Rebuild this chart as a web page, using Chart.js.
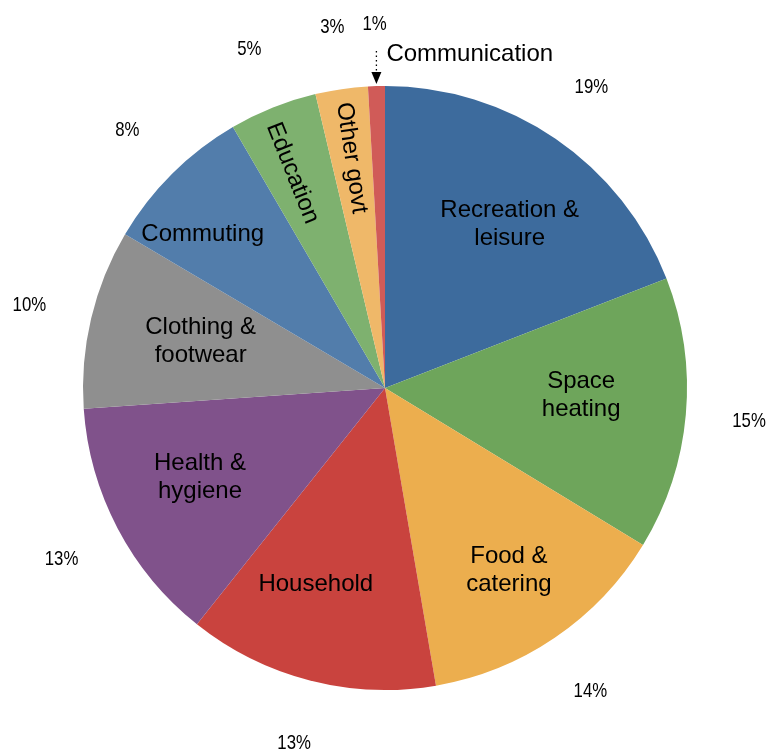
<!DOCTYPE html>
<html>
<head>
<meta charset="utf-8">
<title>Household spending by category</title>
<script src="https://cdn.jsdelivr.net/npm/chart.js@4/dist/chart.umd.min.js"></script>
<style>
  html, body { margin: 0; padding: 0; background: #ffffff; }
  #wrap { position: relative; width: 769px; height: 753px; }
</style>
</head>
<body>
<div id="wrap"><canvas id="pie"></canvas></div>
<script>
// Category names, split into the lines shown inside each slice
const categories = [
  ['Recreation &', 'leisure'],
  ['Space', 'heating'],
  ['Food &', 'catering'],
  ['Household'],
  ['Health &', 'hygiene'],
  ['Clothing &', 'footwear'],
  ['Commuting'],
  ['Education'],
  ['Other govt'],
  ['Communication']
];

// Share of spending, percent
const shares = [19.1, 14.6, 13.6, 13.4, 13.2, 9.6, 8.1, 4.7, 2.8, 0.9];

const sliceColors = [
  '#3d6b9d', '#6ea55b', '#ecae4e', '#c9433e', '#80528b',
  '#8f8f8f', '#527dab', '#7eb16f', '#efb869', '#d05b58'
];

// Where each category name sits: fraction of the radius, angle nudge (deg),
// and whether the text runs along the radius or sits outside with a pointer
const nameLayout = [
  { r: 0.68, da: 3 },
  { r: 0.65, da: -3 },
  { r: 0.73, da: 0 },
  { r: 0.69, da: 5 },
  { r: 0.68, da: 2 },
  { r: 0.63, da: 1 },
  { r: 0.79, da: -5 },
  { r: 0.775, da: -1.5, radial: true },
  { r: 0.77, da: 0, radial: true },
  { outside: true }
];

const NAME_FONT = '24px "Liberation Sans", Arial, Helvetica, sans-serif';
const PCT_FONT = '21px "Liberation Sans", Arial, sans-serif';
const PCT_SQUEEZE = 0.8; // percentages are set in a condensed face

const sliceLabels = {
  id: 'sliceLabels',
  afterDatasetsDraw(chart) {
    const ctx = chart.ctx;
    const arcs = chart.getDatasetMeta(0).data;
    ctx.save();
    ctx.fillStyle = '#000000';
    arcs.forEach((arc, i) => {
      const p = arc.getProps(['x', 'y', 'startAngle', 'endAngle', 'outerRadius'], true);
      const mid = (p.startAngle + p.endAngle) / 2;
      const R = p.outerRadius;

      // percentage outside the rim
      const pr = R * 1.21;
      ctx.save();
      ctx.font = PCT_FONT;
      ctx.textAlign = 'center';
      ctx.textBaseline = 'middle';
      ctx.translate(p.x + Math.cos(mid) * pr, p.y + Math.sin(mid) * pr);
      ctx.scale(PCT_SQUEEZE, 1);
      ctx.fillText(Math.round(shares[i]) + '%', 0, 1);
      ctx.restore();

      const lay = nameLayout[i];
      const lines = categories[i];
      ctx.font = NAME_FONT;
      ctx.textBaseline = 'middle';

      if (lay.outside) {
        // name beside the rim with a dotted pointer down to the slice
        const tipX = p.x + Math.cos(mid) * (R + 2);
        const tipY = p.y + Math.sin(mid) * (R + 2);
        ctx.textAlign = 'left';
        ctx.fillText(lines[0], tipX + 10, tipY - 30);
        ctx.strokeStyle = '#000000';
        ctx.lineWidth = 1.3;
        ctx.setLineDash([1.5, 3]);
        ctx.beginPath();
        ctx.moveTo(tipX, tipY - 33);
        ctx.lineTo(tipX, tipY - 11);
        ctx.stroke();
        ctx.setLineDash([]);
        ctx.beginPath();
        ctx.moveTo(tipX - 5, tipY - 12);
        ctx.lineTo(tipX + 5, tipY - 12);
        ctx.lineTo(tipX, tipY);
        ctx.closePath();
        ctx.fill();
        return;
      }

      const a = mid + lay.da * Math.PI / 180;
      const cx = p.x + Math.cos(a) * R * lay.r;
      const cy = p.y + Math.sin(a) * R * lay.r;
      ctx.textAlign = 'center';
      if (lay.radial) {
        ctx.save();
        ctx.translate(cx, cy);
        ctx.rotate(mid + Math.PI);
        ctx.fillText(lines[0], 0, 0);
        ctx.restore();
      } else {
        const lh = 28;
        const top = cy - (lines.length - 1) * lh / 2;
        lines.forEach((ln, k) => ctx.fillText(ln, cx, top + k * lh));
      }
    });
    ctx.restore();
  }
};

new Chart(document.getElementById('pie'), {
  type: 'pie',
  data: {
    labels: categories.map(l => l.join(' ')),
    datasets: [{
      data: shares,
      backgroundColor: sliceColors,
      borderWidth: 0
    }]
  },
  options: {
    responsive: true,
    maintainAspectRatio: false,
    animation: false,
    layout: { padding: { left: 83, right: 82, top: 86, bottom: 63 } },
    plugins: {
      legend: { display: false },
      tooltip: { enabled: false }
    }
  },
  plugins: [sliceLabels]
});
</script>
</body>
</html>
